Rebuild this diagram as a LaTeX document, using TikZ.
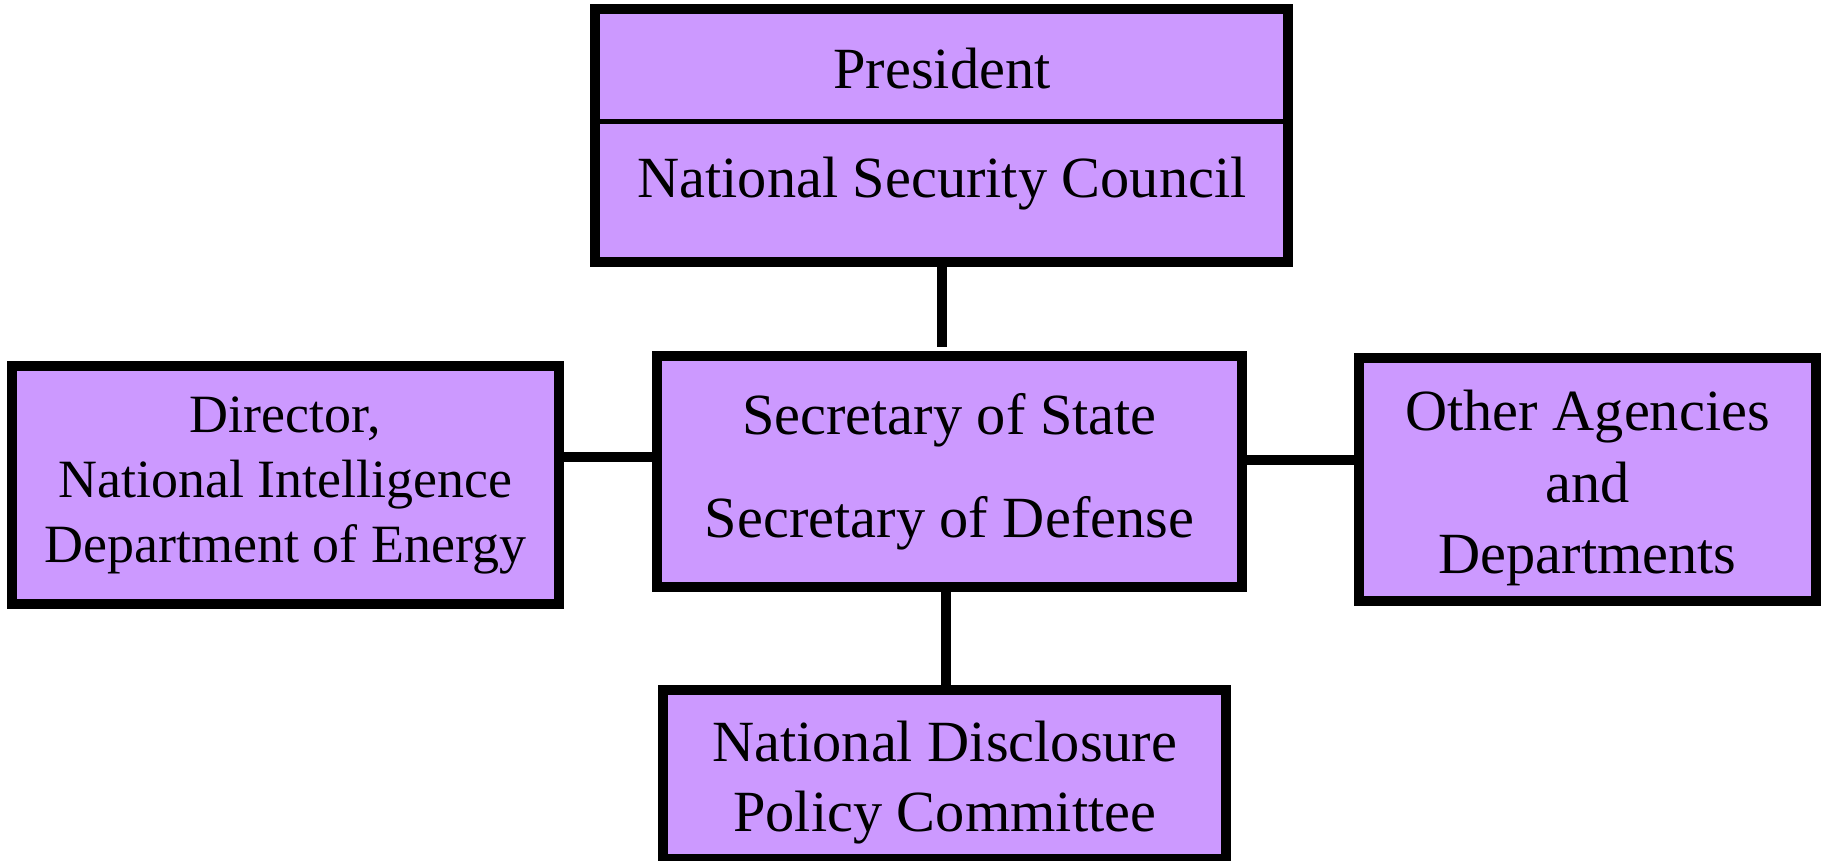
\documentclass[tikz,border=0pt]{standalone}
\usepackage{fontspec}
\setmainfont{Liberation Serif}
\usepackage{tikz}
\usetikzlibrary{positioning}
\definecolor{mypurple}{RGB}{204, 153, 255}
\tikzset{office/.style={draw, line width=5.7pt, fill=mypurple, align=center, inner sep=0pt},
  link/.style={line width=5.7pt}}

\begin{document}
\begin{tikzpicture}[x=0.02cm, y=-0.02cm]
\useasboundingbox (0,0) rectangle (1825,860);

% top box with two cells
\node[office, minimum width=13.87cm, minimum height=5.06cm] (pres) at (941.75,135.5) {};
\draw[line width=2.85pt] (pres.west |- 0,121) -- (pres.east |- 0,121);
\node[anchor=base, font=\fontsize{33.2}{40}\selectfont] (prestxt) at (942,88.5) {President};
\node[anchor=base, font=\fontsize{33.2}{40}\selectfont] (nsctxt) at (942,197) {National Security Council};

\node[office, minimum width=11.7cm, minimum height=4.614cm, font=\fontsize{33.2}{58.6}\selectfont] (secs) at (949.5,471.4) {Secretary of State\\Secretary of Defense};
\node[office, minimum width=10.94cm, minimum height=4.76cm, font=\fontsize{30.7}{37}\selectfont] (dni) at (285.5,485) {Director,\\National Intelligence\\Department of Energy};
\node[office, minimum width=9.156cm, minimum height=4.874cm] (others) at (1587.6,479.5) {};
\node[align=center, font=\fontsize{33.2}{40.8}\selectfont] (otherstxt) at (1587.6,488) {Other Agencies\\and\\Departments};
\node[office, minimum width=11.27cm, minimum height=3.38cm] (ndpc) at (944.7,774.5) {};
\node[align=center, font=\fontsize{33.2}{39.8}\selectfont] (ndpctxt) at (944.7,782.5) {National Disclosure\\Policy Committee};

% connectors
\coordinate (lj) at (0,456.7);
\coordinate (rj) at (0,460);
\coordinate (bj) at (946,0);
\draw[link, shorten >=2.3pt] (pres.south) -- (pres.south |- secs.north);
\draw[link] (dni.east |- lj) -- (secs.west |- lj);
\draw[link] (secs.east |- rj) -- (others.west |- rj);
\draw[link] (bj |- secs.south) -- (bj |- ndpc.north);

\end{tikzpicture}
\end{document}
